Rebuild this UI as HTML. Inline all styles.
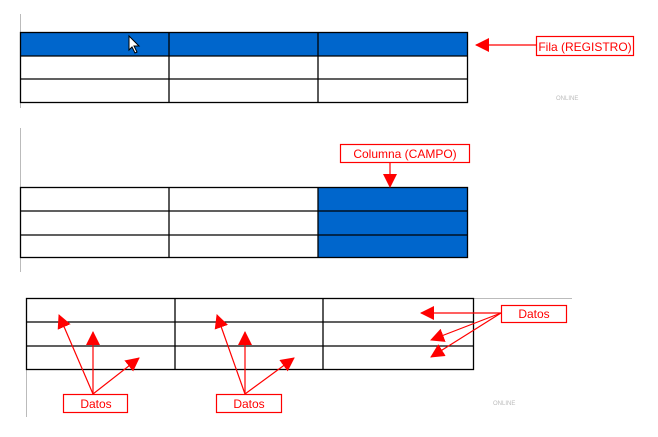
<!DOCTYPE html>
<html><head><style>
body{margin:0;width:658px;height:432px;background:#fff;overflow:hidden}
</style></head><body>
<svg width="658" height="432" xmlns="http://www.w3.org/2000/svg" font-family="Liberation Sans, sans-serif">
<defs><marker id="a" markerWidth="8" markerHeight="8" refX="7" refY="4" orient="auto" markerUnits="userSpaceOnUse" viewBox="0 0 8 8"><path d="M0,0L8,4L0,8z" fill="#f00"/></marker>
<marker id="b" markerWidth="14" markerHeight="14" refX="13" refY="7" orient="auto" markerUnits="userSpaceOnUse" viewBox="0 0 14 14"><path d="M0,0L14,7L0,14z" fill="#f00"/></marker></defs>
<g stroke="#bbb" stroke-width="1"><line x1="20.5" y1="14" x2="20.5" y2="108"/><line x1="20.5" y1="128" x2="20.5" y2="272"/><line x1="26.5" y1="370" x2="26.5" y2="417"/><line x1="474" y1="298.5" x2="572" y2="298.5"/></g>
<!-- table1 -->
<rect x="20" y="32" width="448" height="24" fill="#0066cc"/>
<g stroke="#000" stroke-width="1.3" fill="none"><rect x="20.5" y="32.5" width="447" height="70"/><line x1="20" y1="56" x2="468" y2="56"/><line x1="20" y1="79" x2="468" y2="79"/><line x1="169" y1="32" x2="169" y2="103"/><line x1="318" y1="32" x2="318" y2="103"/></g>
<path d="M129,36 L129,50 L132,47 L135,53 L137,52 L134,46 L139,46 Z" fill="#fff" stroke="#000" stroke-width="1"/>
<rect x="536.5" y="36.5" width="97" height="19" fill="#fff" stroke="#f00" stroke-width="1.2"/>
<text x="585" y="51" font-size="12" fill="#f00" text-anchor="middle">Fila (REGISTRO)</text>
<line x1="536" y1="45" x2="476" y2="45" stroke="#f00" stroke-width="1.2" marker-end="url(#b)"/>
<!-- table2 -->
<rect x="318" y="187" width="150" height="71" fill="#0066cc"/>
<g stroke="#000" stroke-width="1.3" fill="none"><rect x="20.5" y="187.5" width="447" height="70"/><line x1="20" y1="211" x2="468" y2="211"/><line x1="20" y1="235" x2="468" y2="235"/><line x1="169" y1="187" x2="169" y2="258"/><line x1="318" y1="187" x2="318" y2="258"/></g>
<rect x="340.5" y="144.5" width="129" height="18" fill="#fff" stroke="#f00" stroke-width="1.2"/>
<text x="405" y="158" font-size="12" fill="#f00" text-anchor="middle">Columna (CAMPO)</text>
<line x1="390" y1="163" x2="390" y2="187" stroke="#f00" stroke-width="1.2" marker-end="url(#b)"/>
<!-- table3 -->
<g stroke="#000" stroke-width="1.3" fill="none"><rect x="26.5" y="298.5" width="447" height="71"/><line x1="26" y1="322" x2="474" y2="322"/><line x1="26" y1="346" x2="474" y2="346"/><line x1="175" y1="298" x2="175" y2="370"/><line x1="323" y1="298" x2="323" y2="370"/></g>
<g stroke="#f00" stroke-width="1.2">
<line x1="93" y1="394" x2="59" y2="315" marker-end="url(#b)"/><line x1="93" y1="394" x2="93" y2="332" marker-end="url(#b)"/><line x1="93" y1="394" x2="139" y2="358" marker-end="url(#b)"/>
<line x1="245" y1="394" x2="217" y2="315" marker-end="url(#b)"/><line x1="245" y1="394" x2="245" y2="332" marker-end="url(#b)"/><line x1="245" y1="394" x2="294" y2="358" marker-end="url(#b)"/>
<line x1="501" y1="313" x2="421" y2="313" marker-end="url(#b)"/><line x1="501" y1="313" x2="431" y2="340" marker-end="url(#b)"/><line x1="501" y1="313" x2="431" y2="357" marker-end="url(#b)"/>
</g>
<g fill="#fff" stroke="#f00" stroke-width="1.2"><rect x="63.5" y="394.5" width="64" height="18"/><rect x="216.5" y="394.5" width="65" height="18"/><rect x="501.5" y="305.5" width="65" height="17"/></g>
<g font-size="12" fill="#f00" text-anchor="middle"><text x="96" y="408">Datos</text><text x="249" y="408">Datos</text><text x="534" y="318">Datos</text></g>
<g fill="#bbb" font-size="6"><text x="556" y="100">ONLINE</text><text x="493" y="405">ONLINE</text></g>
</svg>
</body></html>
